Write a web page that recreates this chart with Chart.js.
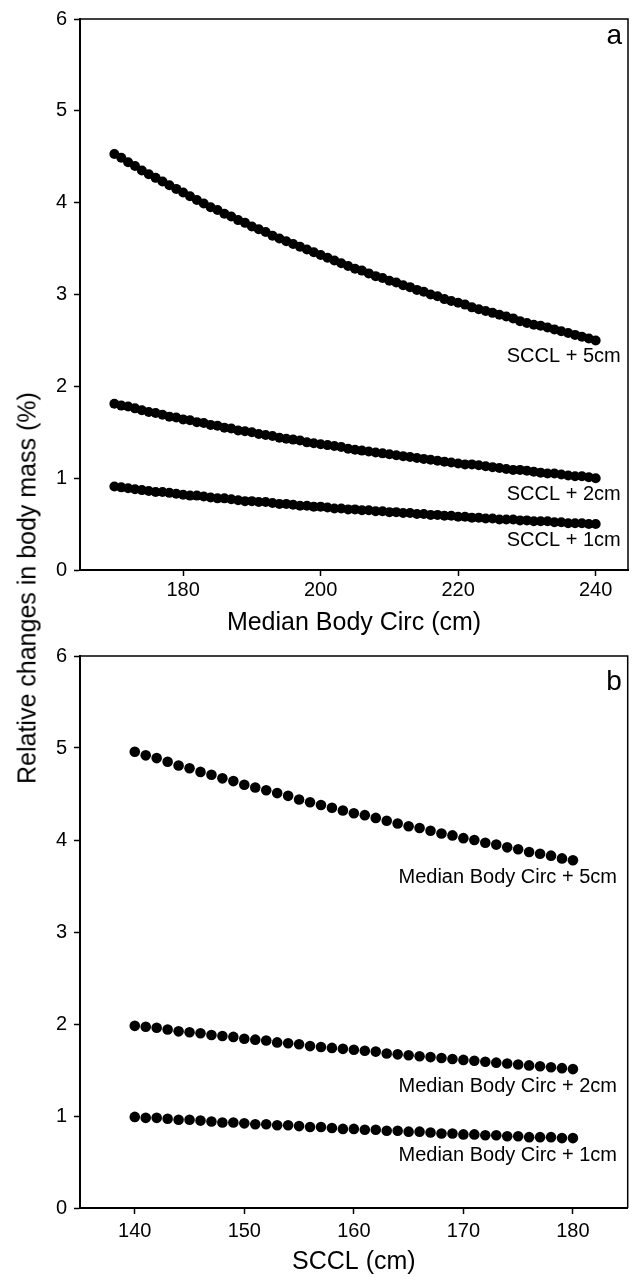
<!DOCTYPE html>
<html lang="en">
<head>
  <meta charset="UTF-8">
  <title>Relative changes in body mass</title>
  <script src="https://cdn.jsdelivr.net/npm/chart.js"></script>
  <style>
    body { margin: 0; background: #fff; }
    #wrap { position: relative; width: 633px; height: 1277px; font-family: "Liberation Sans", Arial, sans-serif; }
    canvas { position: absolute; left: 0; }
    #chartA { top: 0; }
    #chartB { top: 637px; }
    #yTitle {
      position: absolute; left: 27px; top: 588px; white-space: nowrap;
      font-size: 25px; color: #000;
      transform: translate(-50%, -50%) rotate(-90deg);
    }
  </style>
</head>
<body>
<div id="wrap">
  <canvas id="chartA" width="633" height="640"></canvas>
  <canvas id="chartB" width="633" height="640"></canvas>
  <div id="yTitle">Relative changes in body mass (%)</div>
</div>

<script>
  // panel a: x = median body circ (cm)
  const bodyCircA = [170,171,172,173,174,175,176,177,178,179,180,181,182,183,184,185,186,187,188,189,
    190,191,192,193,194,195,196,197,198,199,200,201,202,203,204,205,206,207,208,209,
    210,211,212,213,214,215,216,217,218,219,220,221,222,223,224,225,226,227,228,229,
    230,231,232,233,234,235,236,237,238,239,240];
  const scclPlus5 = [4.53,4.49,4.44,4.40,4.35, 4.31,4.27,4.23,4.19,4.15, 4.11,4.07,4.03,3.99,3.95,
    3.92,3.88,3.85,3.81,3.78, 3.74,3.71,3.68,3.64,3.61, 3.58,3.55,3.52,3.49,3.46,
    3.43,3.40,3.37,3.34,3.31, 3.28,3.26,3.23,3.20,3.18, 3.15,3.13,3.10,3.08,3.05,
    3.03,3.00,2.98,2.95,2.93, 2.91,2.89,2.86,2.84,2.82, 2.80,2.78,2.76,2.74,2.71,
    2.69,2.67,2.66,2.64,2.62, 2.60,2.58,2.56,2.54,2.52, 2.50];
  const scclPlus2 = [1.81,1.79,1.78,1.76,1.74, 1.72,1.71,1.69,1.67,1.66, 1.64,1.63,1.61,1.60,1.58,
    1.57,1.55,1.54,1.52,1.51, 1.50,1.48,1.47,1.46,1.44, 1.43,1.42,1.41,1.39,1.38,
    1.37,1.36,1.35,1.34,1.32, 1.31,1.30,1.29,1.28,1.27, 1.26,1.25,1.24,1.23,1.22,
    1.21,1.20,1.19,1.18,1.17, 1.16,1.15,1.15,1.14,1.13, 1.12,1.11,1.10,1.09,1.09,
    1.08,1.07,1.06,1.05,1.05, 1.04,1.03,1.02,1.02,1.01, 1.00];
  const scclPlus1 = [0.91,0.90,0.89,0.88,0.87, 0.86,0.85,0.85,0.84,0.83, 0.82,0.81,0.81,0.80,0.79,
    0.78,0.78,0.77,0.76,0.75, 0.75,0.74,0.74,0.73,0.72, 0.72,0.71,0.70,0.70,0.69,
    0.69,0.68,0.67,0.67,0.66, 0.66,0.65,0.65,0.64,0.64, 0.63,0.63,0.62,0.62,0.61,
    0.61,0.60,0.60,0.59,0.59, 0.58,0.58,0.57,0.57,0.56, 0.56,0.55,0.55,0.55,0.54,
    0.54,0.53,0.53,0.53,0.52, 0.52,0.51,0.51,0.51,0.50, 0.50];
  const labelsA = ['SCCL + 5cm', 'SCCL + 2cm', 'SCCL + 1cm'];
  const xTicksA = [180, 200, 220, 240];

  // panel b: x = SCCL (cm)
  const scclB = [140,141,142,143,144,145,146,147,148,149,150,151,152,153,154,155,156,157,158,159,
    160,161,162,163,164,165,166,167,168,169,170,171,172,173,174,175,176,177,178,179,180];
  const circPlus5 = [4.96,4.92,4.89,4.85,4.81, 4.78,4.74,4.71,4.67,4.64, 4.60,4.57,4.54,4.51,4.48,
    4.44,4.41,4.38,4.35,4.32, 4.29,4.27,4.24,4.21,4.18, 4.15,4.13,4.10,4.07,4.05,
    4.02,4.00,3.97,3.95,3.92, 3.90,3.87,3.85,3.83,3.80, 3.78];
  const circPlus2 = [1.98,1.97,1.96,1.94,1.92, 1.91,1.90,1.88,1.87,1.86, 1.84,1.83,1.82,1.80,1.79,
    1.78,1.76,1.75,1.74,1.73, 1.72,1.71,1.70,1.68,1.67, 1.66,1.65,1.64,1.63,1.62,
    1.61,1.60,1.59,1.58,1.57, 1.56,1.55,1.54,1.53,1.52, 1.51];
  const circPlus1 = [0.99,0.98,0.98,0.97,0.96, 0.96,0.95,0.94,0.93,0.93, 0.92,0.91,0.91,0.90,0.90,
    0.89,0.88,0.88,0.87,0.86, 0.86,0.85,0.85,0.84,0.84, 0.83,0.83,0.82,0.81,0.81,
    0.80,0.80,0.79,0.79,0.78, 0.78,0.77,0.77,0.77,0.76, 0.76];
  const labelsB = ['Median Body Circ + 5cm', 'Median Body Circ + 2cm', 'Median Body Circ + 1cm'];
  const xTicksB = [140, 150, 160, 170, 180];

  const yTicks = [0, 1, 2, 3, 4, 5, 6];

  const FONT = '"Liberation Sans", Arial, sans-serif';

  // box around the plot + series labels + panel letter
  const panelDecor = {
    id: 'panelDecor',
    afterDraw(chart, args, opts) {
      const ctx = chart.ctx;
      const area = chart.chartArea;
      ctx.save();
      ctx.strokeStyle = '#000';
      ctx.lineWidth = 1.5;
      ctx.beginPath();
      ctx.moveTo(area.left, area.top);
      ctx.lineTo(area.right, area.top);
      ctx.lineTo(area.right, area.bottom);
      ctx.stroke();

      ctx.fillStyle = '#000';
      ctx.font = '20px ' + FONT;
      ctx.textAlign = 'right';
      ctx.textBaseline = 'middle';
      chart.data.datasets.forEach((ds, i) => {
        const meta = chart.getDatasetMeta(i);
        const last = meta.data[meta.data.length - 1];
        ctx.fillText(opts.labels[i], last.x + opts.dx, last.y + opts.dy);
      });

      ctx.font = '28px ' + FONT;
      ctx.textBaseline = 'alphabetic';
      ctx.fillText(opts.letter, area.right - 6, area.top + opts.letterDy);
      ctx.restore();
    }
  };

  function toPoints(xs, ys) {
    return xs.map((x, i) => ({ x: x, y: ys[i] }));
  }

  function makePanel(id, xs, series, labels, xTicks, xMin, xMax, xTitle, opt) {
    const ctx = document.getElementById(id).getContext('2d');
    new Chart(ctx, {
      type: 'scatter',
      data: {
        datasets: series.map(ys => ({
          data: toPoints(xs, ys),
          pointRadius: opt.radius,
          pointBackgroundColor: '#000',
          pointBorderWidth: 0,
          showLine: false
        }))
      },
      options: {
        responsive: false,
        animation: false,
        devicePixelRatio: 1,
        layout: { padding: { top: opt.padTop, right: opt.padRight, bottom: 0, left: 0 } },
        plugins: {
          legend: { display: false },
          tooltip: { enabled: false },
          panelDecor: { labels: labels, dx: opt.dx, dy: opt.dy, letter: opt.letter, letterDy: opt.letterDy }
        },
        scales: {
          x: {
            type: 'linear',
            min: xMin,
            max: xMax,
            afterBuildTicks: scale => { scale.ticks = xTicks.map(v => ({ value: v })); },
            afterFit: scale => { scale.height = opt.xHeight; },
            border: { display: true, color: '#000', width: 2 },
            grid: { drawOnChartArea: false, drawTicks: true, tickLength: 6, color: '#000', tickWidth: 1.5 },
            ticks: { color: '#000', font: { family: FONT, size: 20 }, padding: opt.tickPad, maxRotation: 0 },
            title: { display: true, text: xTitle, color: '#000', font: { family: FONT, size: 25 }, padding: { top: 0, bottom: opt.titlePad } }
          },
          y: {
            min: 0,
            max: 6,
            afterBuildTicks: scale => { scale.ticks = yTicks.map(v => ({ value: v })); },
            afterFit: scale => { scale.width = 80; },
            border: { display: true, color: '#000', width: 2 },
            grid: { drawOnChartArea: false, drawTicks: true, tickLength: 6, color: '#000', tickWidth: 1.5 },
            ticks: { color: '#000', font: { family: FONT, size: 20 }, padding: 7 }
          }
        }
      },
      plugins: [panelDecor]
    });
  }

  makePanel('chartA', bodyCircA, [scclPlus5, scclPlus2, scclPlus1], labelsA, xTicksA, 165, 244.7,
    'Median Body Circ (cm)',
    { radius: 5, padTop: 17, padRight: 2, xHeight: 70, tickPad: 2, titlePad: 2, dx: 25, dy: 16, letter: 'a', letterDy: 25 });

  makePanel('chartB', scclB, [circPlus5, circPlus2, circPlus1], labelsB, xTicksB, 135, 185,
    'SCCL (cm)',
    { radius: 5.3, padTop: 18, padRight: 1, xHeight: 69, tickPad: 5, titlePad: 0, dx: 44, dy: 17, letter: 'b', letterDy: 34 });
</script>
</body>
</html>
